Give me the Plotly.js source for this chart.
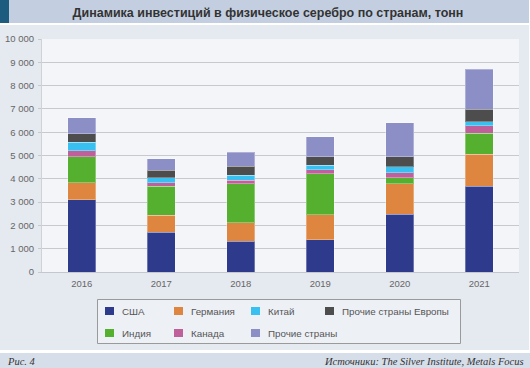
<!DOCTYPE html>
<html>
<head>
<meta charset="utf-8">
<script src="https://cdn.plot.ly/plotly-3.0.1.min.js"></script>
<style>html,body{margin:0;padding:0;background:#e5e9f0;}#chart{width:530px;height:368px;}</style>
</head>
<body>
<div id="chart"></div>
<script>
// ---- data ----
var years = ['2016', '2017', '2018', '2019', '2020', '2021'];
var usa         = [3100, 1700, 1330, 1390, 2470, 3690];
var germany     = [720, 730, 790, 1070, 1320, 1370];
var india       = [1130, 1260, 1670, 1760, 260, 900];
var canada      = [245, 130, 140, 170, 215, 315];
var china       = [370, 225, 230, 185, 255, 170];
var otherEurope = [375, 315, 370, 375, 430, 545];
var other       = [670, 490, 620, 860, 1460, 1715];
var seriesNames = ['США', 'Германия', 'Индия', 'Канада', 'Китай', 'Прочие страны Европы', 'Прочие страны'];
var yTickVals = [0, 1000, 2000, 3000, 4000, 5000, 6000, 7000, 8000, 9000, 10000];
// legend reading order (row by row): США, Германия, Китай, Прочие страны Европы / Индия, Канада, Прочие страны
var legendOrder = [0, 1, 4, 5, 2, 3, 6];

// ---- styles ----
var colors = ['#2e3a8c', '#de853f', '#55b030', '#c0609a', '#38c0f0', '#4d4d4d', '#8b8fc6'];
var seriesData = [usa, germany, india, canada, china, otherEurope, other];

var W = 530, H = 368, L = 42, R = 11, T = 39, B = 96;
var PW = W - L - R, PH = H - T - B;
function px(x) { return (x - L) / PW; }
function py(y) { return (H - B - y) / PH; }

var traces = seriesData.map(function (vals, i) {
  return {
    type: 'bar',
    x: years,
    y: vals,
    name: seriesNames[i],
    showlegend: false,
    marker: { color: colors[i], line: { color: 'rgba(255,255,255,0.3)', width: 1 } },
    hoverinfo: 'skip'
  };
});

function rect(x0, y0, x1, y1, color, lineColor) {
  return { type: 'rect', xref: 'paper', yref: 'paper', x0: px(x0), x1: px(x1), y0: py(y0), y1: py(y1),
           fillcolor: color, line: lineColor ? { width: 1, color: lineColor } : { width: 0 }, layer: 'below' };
}

var shapes = [
  rect(0, 0, 529, 23, '#c3cfe1'),
  rect(0, 0, 9, 23, '#1d5b7f'),
  rect(0, 23, 530, 25, '#ffffff'),
  rect(529, 0, 530, 350, '#ffffff'),
  rect(0, 350, 530, 353, '#ffffff'),
  rect(0, 353, 530, 368, '#d6deea'),
  rect(97.5, 299.5, 460.5, 343.5, '#edf0f5', '#9a9a9a')
];

var annotations = [
  { xref: 'paper', yref: 'paper', x: px(5), y: py(361), xanchor: 'left', yanchor: 'middle', showarrow: false,
    text: 'Рис. 4', font: { family: 'Liberation Serif, Times New Roman, serif', size: 10.5, color: '#333', style: 'italic' } },
  { xref: 'paper', yref: 'paper', x: px(526), y: py(361), xanchor: 'right', yanchor: 'middle', showarrow: false,
    text: 'Источники: The Silver Institute, Metals Focus', font: { family: 'Liberation Serif, Times New Roman, serif', size: 10.5, color: '#333', style: 'italic' } }
];

// manual legend grid (4 columns x 2 rows)
var colSwatchX = [105, 174, 251, 325];
var rowCenterY = [311, 333];
legendOrder.forEach(function (si, k) {
  var c = k % 4, r = Math.floor(k / 4);
  var sx = colSwatchX[c], cy = rowCenterY[r];
  shapes.push({ type: 'rect', xref: 'paper', yref: 'paper', x0: px(sx), x1: px(sx + 9), y0: py(cy + 4), y1: py(cy - 4),
                fillcolor: colors[si], line: { width: 0 }, layer: 'above' });
  annotations.push({ xref: 'paper', yref: 'paper', x: px(sx + 15), y: py(cy), xanchor: 'left', yanchor: 'middle',
                     showarrow: false, text: seriesNames[si],
                     font: { family: 'Liberation Sans, Arial, sans-serif', size: 9.8, color: '#555' } });
});

var layout = {
  width: W, height: H,
  margin: { l: L, r: R, t: T, b: B, pad: 0 },
  paper_bgcolor: '#e5e9f0',
  plot_bgcolor: '#f3f5f9',
  barmode: 'stack',
  bargap: 0.65,
  separators: ', ',
  showlegend: false,
  font: { family: 'Liberation Sans, Arial, sans-serif', color: '#555' },
  title: {
    text: 'Динамика инвестиций в физическое серебро по странам, тонн',
    font: { family: 'Liberation Sans, Arial, sans-serif', size: 12.5, color: '#333', weight: 'bold' },
    x: 268 / W, xanchor: 'center', xref: 'container',
    y: 1 - 12.5 / H, yanchor: 'middle', yref: 'container'
  },
  xaxis: {
    type: 'category',
    range: [-0.5, 5.5],
    showgrid: false,
    showline: true, linecolor: '#c5c7cd', linewidth: 1,
    ticks: '',
    tickfont: { size: 9.5, color: '#666' },
    ticklabelstandoff: 3,
    fixedrange: true
  },
  yaxis: {
    range: [0, 10000],
    tickvals: yTickVals,
    tickformat: ',d',
    separatethousands: true,
    showgrid: true, gridcolor: '#c8c9cf', gridwidth: 1,
    zeroline: false,
    showline: true, linecolor: '#d0d2d8', linewidth: 1,
    ticks: 'outside', ticklen: 3, tickcolor: '#c8c9cf',
    tickfont: { size: 9.5, color: '#666' },
    ticklabelstandoff: 2,
    fixedrange: true
  },
  shapes: shapes,
  annotations: annotations
};

Plotly.newPlot('chart', traces, layout, { displayModeBar: false, staticPlot: true });
</script>
</body>
</html>
